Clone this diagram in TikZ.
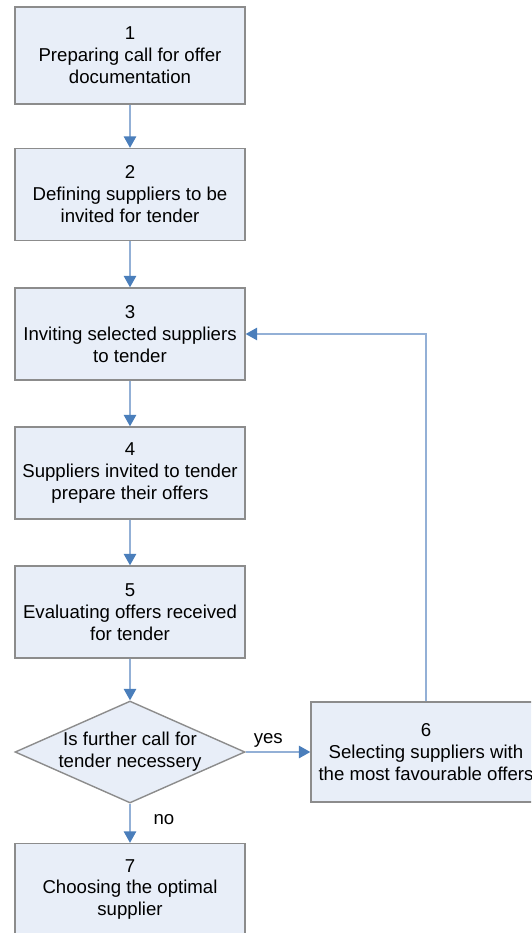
\documentclass[tikz,border=0pt]{standalone}
\usepackage{fontspec}
\setmainfont{Liberation Sans}
\usetikzlibrary{shapes.geometric,arrows.meta}
\definecolor{boxfill}{HTML}{E8EEF8}
\definecolor{boxline}{HTML}{8C8C8C}
\definecolor{flowline}{HTML}{93B0D6}
\definecolor{flowtip}{HTML}{4A7EBB}
\begin{document}
\begin{tikzpicture}[x=.02cm, y=-.02cm,
		stepbox/.style={draw=boxline, fill=boxfill, line width=.8pt, minimum width=4.6cm, minimum height=1.84cm, align=center, inner sep=0pt, font=\fontsize{10.6}{12.5}\selectfont},
		decision/.style={draw=boxline, fill=boxfill, line width=.8pt, diamond, minimum width=4.6cm, minimum height=2.04cm, inner sep=0pt},
		flow/.style={draw=flowline, line width=.8pt, -{Triangle[width=.25cm, length=.23cm, fill=flowtip, color=flowtip]}},
		answer/.style={font=\fontsize{10.6}{12.5}\selectfont, inner sep=1pt}]
	\clip (0,0) rectangle (531,933);
	\node [stepbox, minimum height=1.94cm] (b1) at (130,55.5) {1\\Preparing call for offer\\documentation};
	\node [stepbox] (b2) at (130,194.5) {2\\Defining suppliers to be\\invited for tender};
	\node [stepbox] (b3) at (130,334) {3\\Inviting selected suppliers\\to tender};
	\node [stepbox] (b4) at (130,473) {4\\Suppliers invited to tender\\prepare their offers};
	\node [stepbox] (b5) at (130,612) {5\\Evaluating offers received\\for tender};
	\node [decision] (q) at (130,752) {};
	\node [align=center, font=\fontsize{10.6}{12.5}\selectfont] (qtext) at (q) {Is further call for\\tender necessery};
	\node [stepbox, minimum height=2cm] (b6) at (426,752) {6\\Selecting suppliers with\\the most favourable offers};
	\node [stepbox] (b7) at (130,889.5) {7\\Choosing the optimal\\supplier};
	\foreach \a/\b in {b1/b2, b2/b3, b3/b4, b4/b5, b5/q} {
		\draw [flow] (\a.south) -- (\b.north);
	}
	\draw [flow] (q.south) -- node [answer, right=12pt, pos=.4] (no) {no} (b7.north);
	\draw [flow] (q.east) -- node [answer, above=1pt, pos=.35] (yes) {yes} (b6.west);
	\draw [flow] (b6.north) |- (b3.east);
\end{tikzpicture}
\end{document}
